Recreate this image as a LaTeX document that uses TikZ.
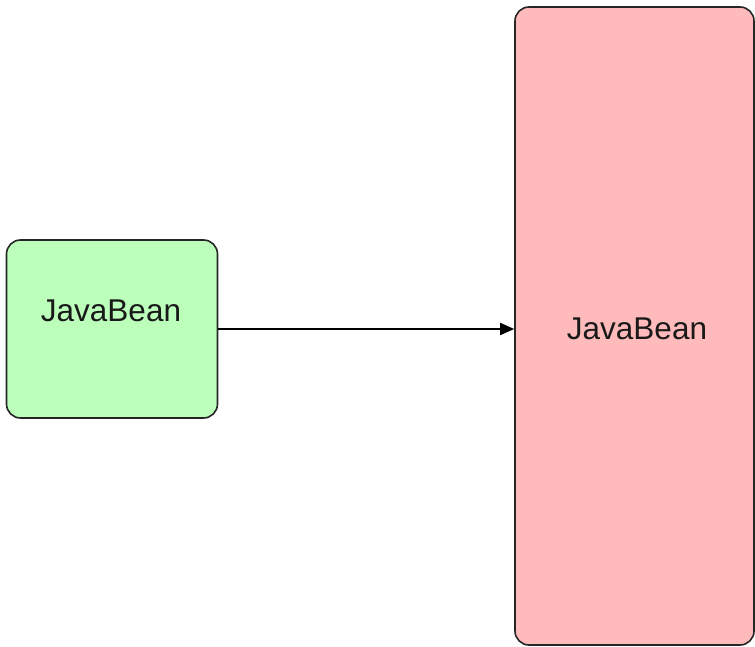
\documentclass[tikz,border=0pt]{standalone}
\usepackage{fontspec}
\setmainfont{Liberation Sans}
\usetikzlibrary{arrows.meta}
\definecolor{beangreen}{HTML}{BBFFBB}
\definecolor{beanred}{HTML}{FFBBBB}
\tikzset{
  bean/.style={draw=black!85, line width=1.6pt, rounded corners=14pt, inner sep=0pt},
  beanlabel/.style={font=\fontsize{31.5}{36}\selectfont, text=black!90},
  link/.style={line width=1.6pt, -{Triangle[length=14pt,width=12pt]}}
}
\begin{document}
\begin{tikzpicture}[x=1pt,y=-1pt]
  \useasboundingbox (0,0) rectangle (755,647);
  % source bean
  \node[bean, fill=beangreen, minimum width=211pt, minimum height=178pt] (src) at (112,329) {};
  \node[beanlabel] (srclabel) at (111,311) {JavaBean};
  % target bean
  \node[bean, fill=beanred, minimum width=239pt, minimum height=638pt] (dst) at (634.5,326) {};
  \node[beanlabel] (dstlabel) at (637,329) {JavaBean};
  % connector
  \draw[link] (src.east) -- (src.east -| dst.west);
\end{tikzpicture}
\end{document}
